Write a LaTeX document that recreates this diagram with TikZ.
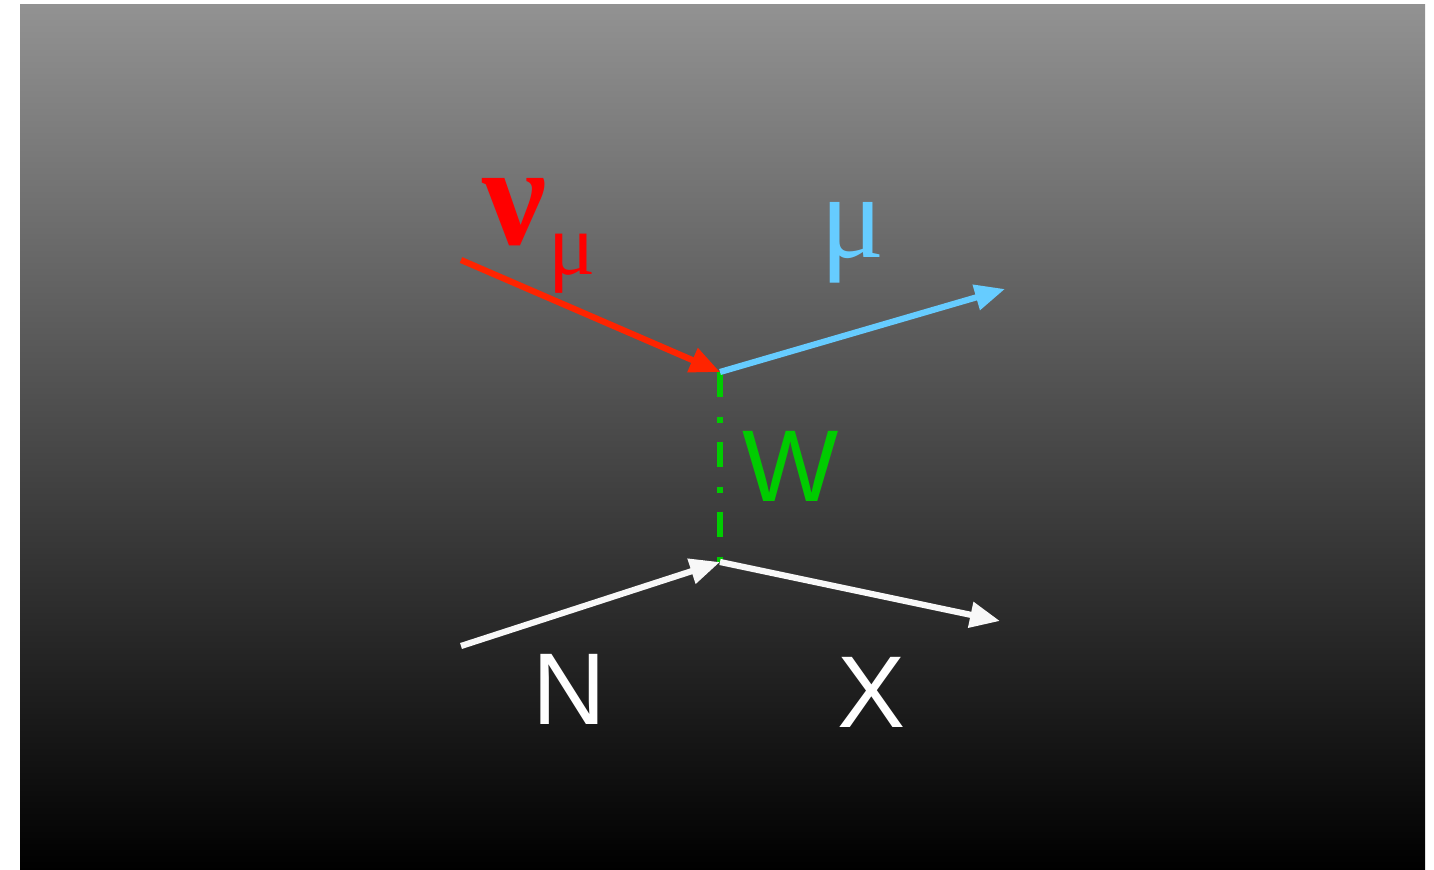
\documentclass[tikz,border=0pt]{standalone}
\usepackage{fontspec}
\setmainfont{Liberation Serif}
\setsansfont{Liberation Sans}
\usepackage{xcolor}
\usetikzlibrary{arrows.meta}

\definecolor{bgtop}{RGB}{146,146,146}
\definecolor{nured}{RGB}{255,36,0}
\definecolor{muonblue}{RGB}{102,204,255}
\definecolor{wgreen}{RGB}{0,204,0}
\definecolor{hadwhite}{RGB}{248,248,248}

\tikzset{
  leg/.style={line width=3.1pt, -{Triangle[length=15pt,width=12.5pt]}},
  boson/.style={line width=3.1pt, wgreen, dash pattern=on 12.5pt off 10pt on 3pt off 9.5pt},
  lbl/.style={anchor=base, inner sep=0pt}
}

\begin{document}
\begin{tikzpicture}[x=0.5pt,y=-0.5pt]
    			\useasboundingbox (0,0) rectangle (1434,870);
    			\shade[top color=bgtop, bottom color=black] (20,5) rectangle (1425,870);
    			
    			\coordinate (A) at (461,260);
    			\coordinate (B) at (720,372);
    			\coordinate (C) at (1005,289);
    			\coordinate (D) at (461,646);
    			\coordinate (E) at (720,562);
    			\coordinate (F) at (1000,621);
    			
    			\draw[boson] (B) -- (E);
    			\draw[leg, muonblue] (B) -- (C);
    			\draw[leg, nured] (A) -- (B);
    			\draw[leg, hadwhite] (E) -- (F);
    			\draw[leg, hadwhite] (D) -- (E);
    			
    			\node[lbl, text=red] (nu) at (515,245) {\fontsize{72}{80}\selectfont\bfseries ν};
    			\node[lbl, text=red] (nusub) at (572,275) {\fontsize{44}{50}\selectfont μ};
    			\node[lbl, text=muonblue] (mu) at (853,258) {\fontsize{60}{68}\selectfont μ};
    			\node[lbl, text=wgreen] (w) at (791,502) {\sffamily\fontsize{51}{60}\selectfont W};
    			\node[lbl, text=white] (n) at (569,725) {\sffamily\fontsize{51}{60}\selectfont N};
    			\node[lbl, text=white] (x) at (872,727) {\sffamily\fontsize{51}{60}\selectfont X};
    		\end{tikzpicture}
\end{document}
